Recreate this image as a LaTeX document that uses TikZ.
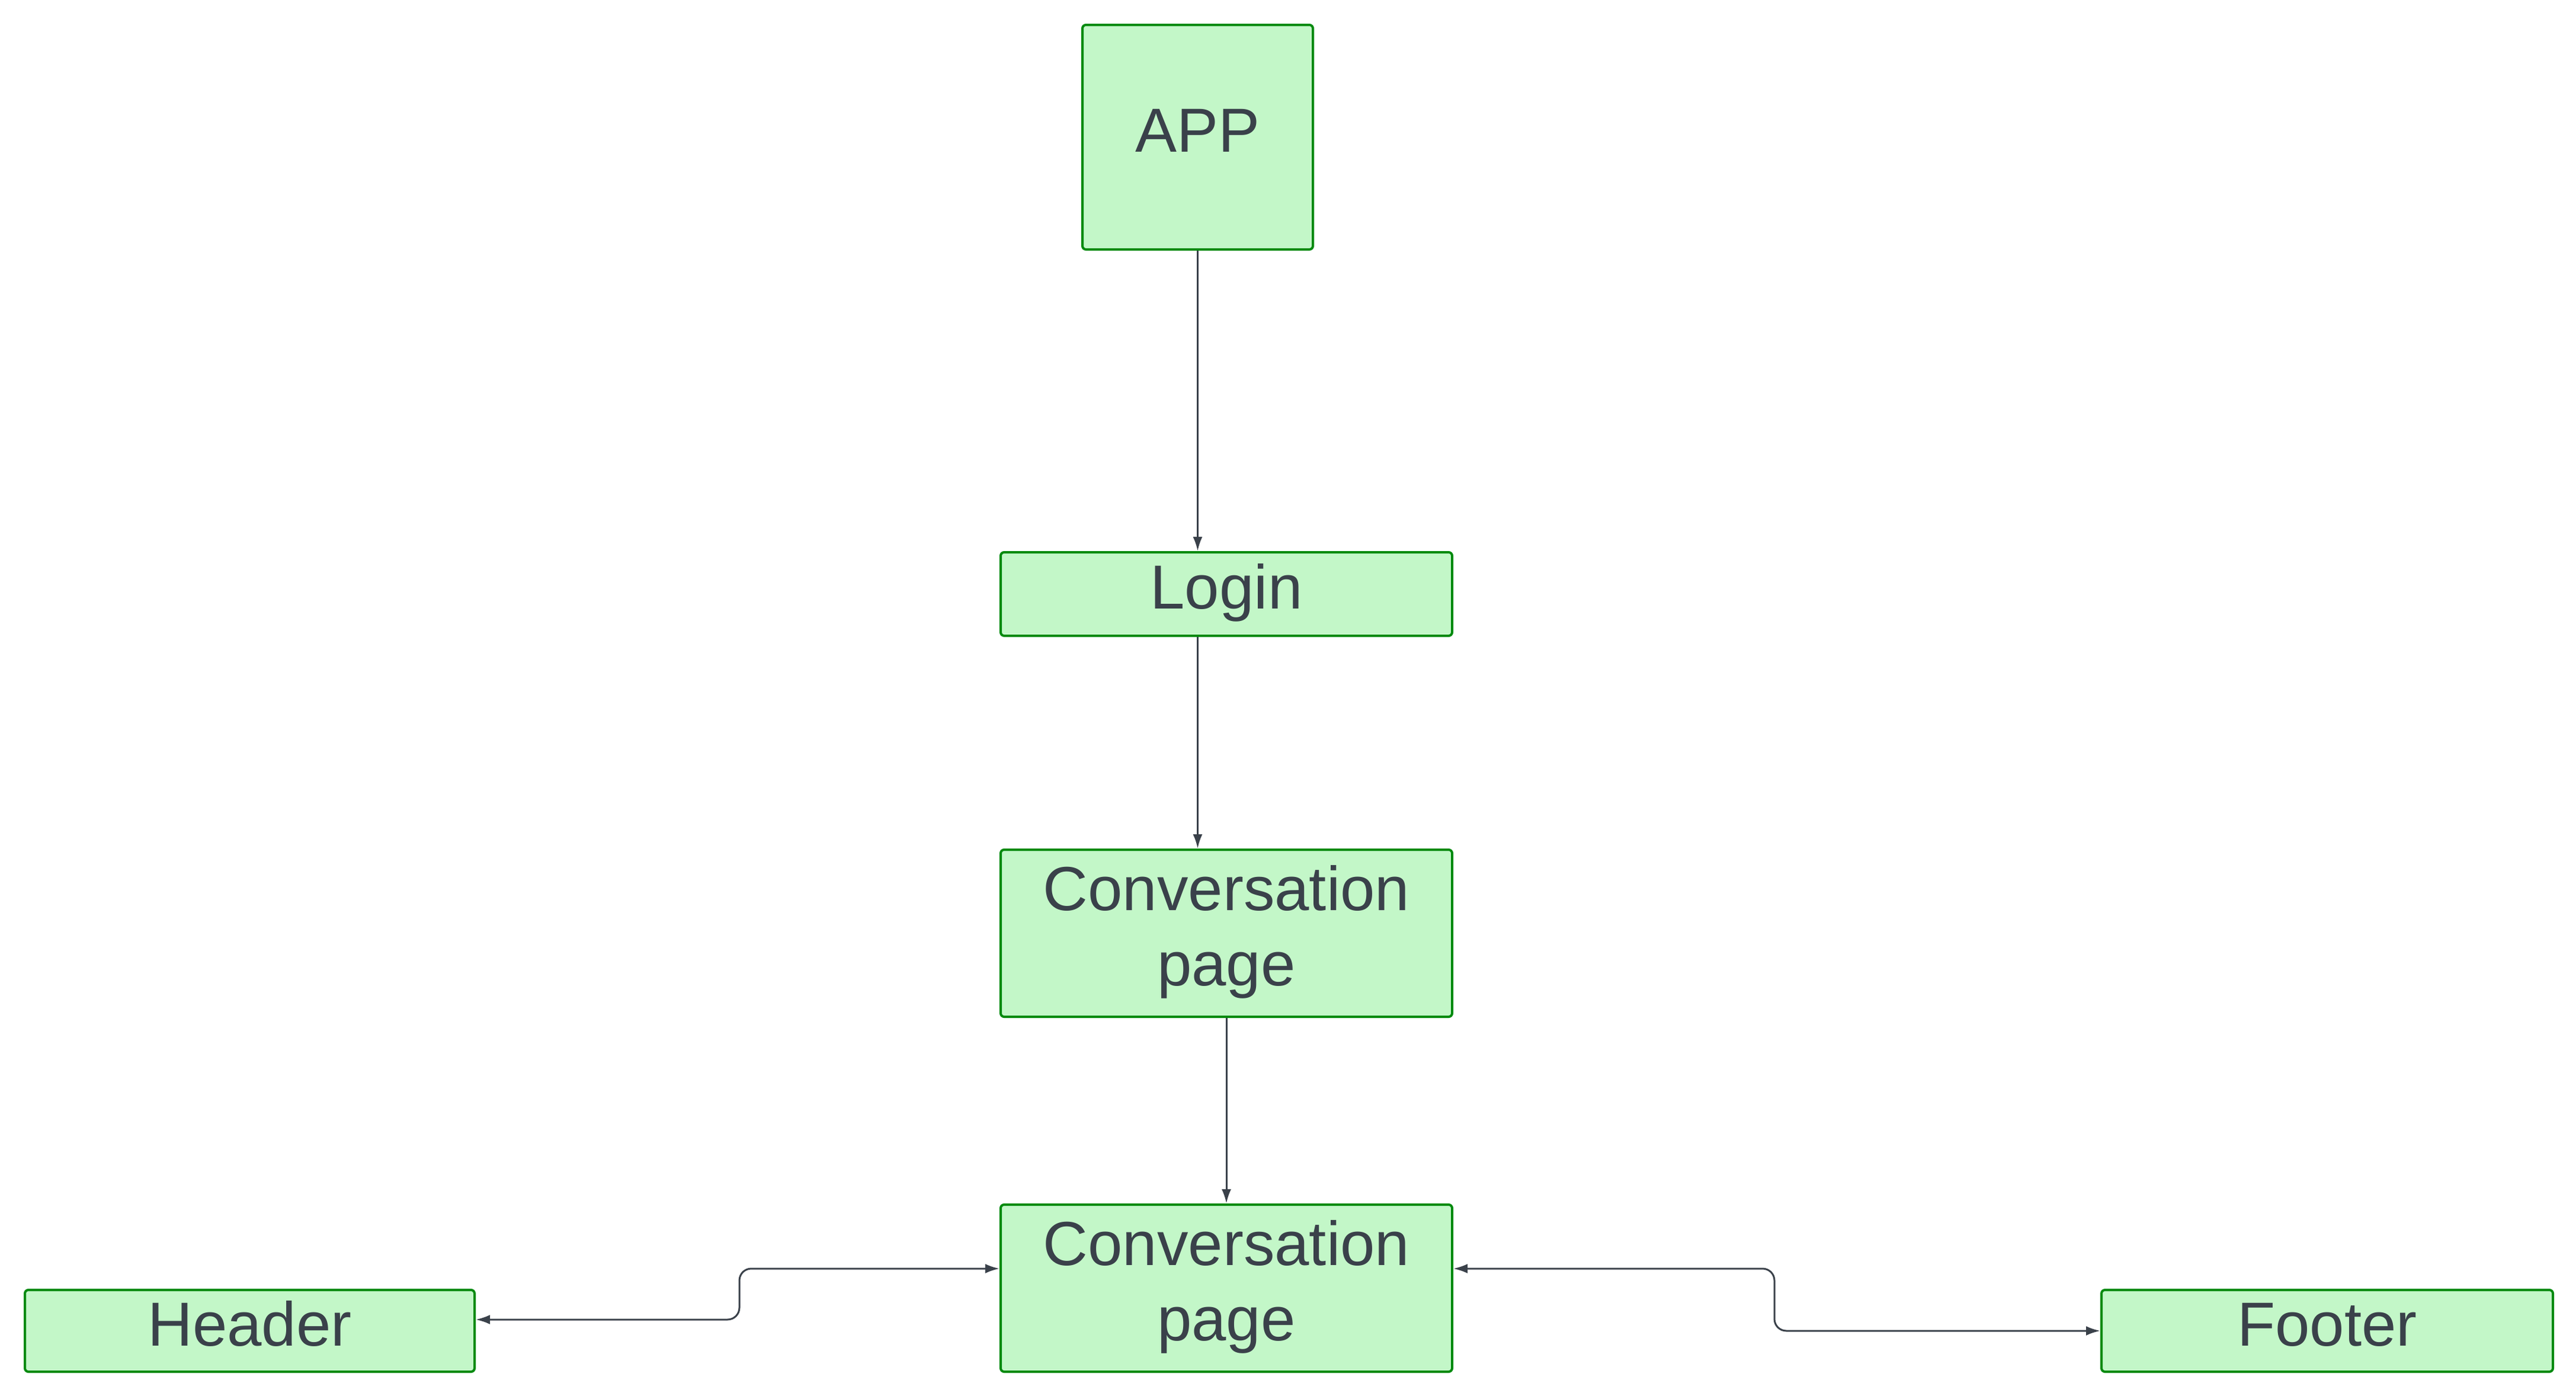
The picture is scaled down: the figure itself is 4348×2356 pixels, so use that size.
\documentclass[tikz,border=0pt]{standalone}
\usepackage{fontspec}
\setmainfont{Liberation Sans}
\usetikzlibrary{arrows.meta}
\definecolor{boxfill}{HTML}{C3F7C8}
\definecolor{boxline}{HTML}{008A0E}
\definecolor{ink}{HTML}{3A414A}
\begin{document}
\begin{tikzpicture}[x=0.5pt,y=-0.5pt,
  box/.style={draw=boxline, fill=boxfill, line width=2pt, rounded corners=3pt,
    inner sep=0pt, align=center, text=ink,
    font=\fontsize{52.5pt}{63.5pt}\selectfont},
  oneline/.style={text height=40pt, text depth=15pt},
  twoline/.style={text height=110pt, text depth=22pt},
  conn/.style={draw=ink, line width=1.5pt, -{Latex[length=12pt,width=8pt]}},
  biconn/.style={draw=ink, line width=1.5pt, rounded corners=10pt,
    {Latex[length=12pt,width=8pt]}-{Latex[length=12pt,width=8pt]}}]
\useasboundingbox (0,0) rectangle (4348,2356);
\node[box, oneline, minimum width=194.5pt, minimum height=189.5pt] (app) at (2021.5,231.5) {APP};
\node[box, oneline, minimum width=381pt, minimum height=70.5pt] (login) at (2070,1002.5) {Login};
\node[box, twoline, minimum width=381pt, minimum height=141pt] (conv1) at (2070,1575) {Conversation\\page};
\node[box, twoline, minimum width=381pt, minimum height=141pt] (conv2) at (2070,2174) {Conversation\\page};
\node[box, oneline, minimum width=379.5pt, minimum height=69pt] (header) at (421.5,2246) {Header};
\node[box, oneline, minimum width=381pt, minimum height=69pt] (footer) at (3928,2246) {Footer};
\coordinate (lb1) at (1248,2141);
\coordinate (lb2) at (1248,2227);
\coordinate (rb1) at (2995,2141);
\coordinate (rb2) at (2995,2246);
\draw[conn] (app.south) -- (app.south |- login.north);
\draw[conn] (app.south |- login.south) -- (app.south |- conv1.north);
\draw[conn] (conv1.south) -- (conv2.north);
\draw[biconn] (header.east |- lb2) -- (lb2) -- (lb1) -- (conv2.west |- lb1);
\draw[biconn] (conv2.east |- rb1) -- (rb1) -- (rb2) -- (footer.west |- rb2);
\end{tikzpicture}
\end{document}
